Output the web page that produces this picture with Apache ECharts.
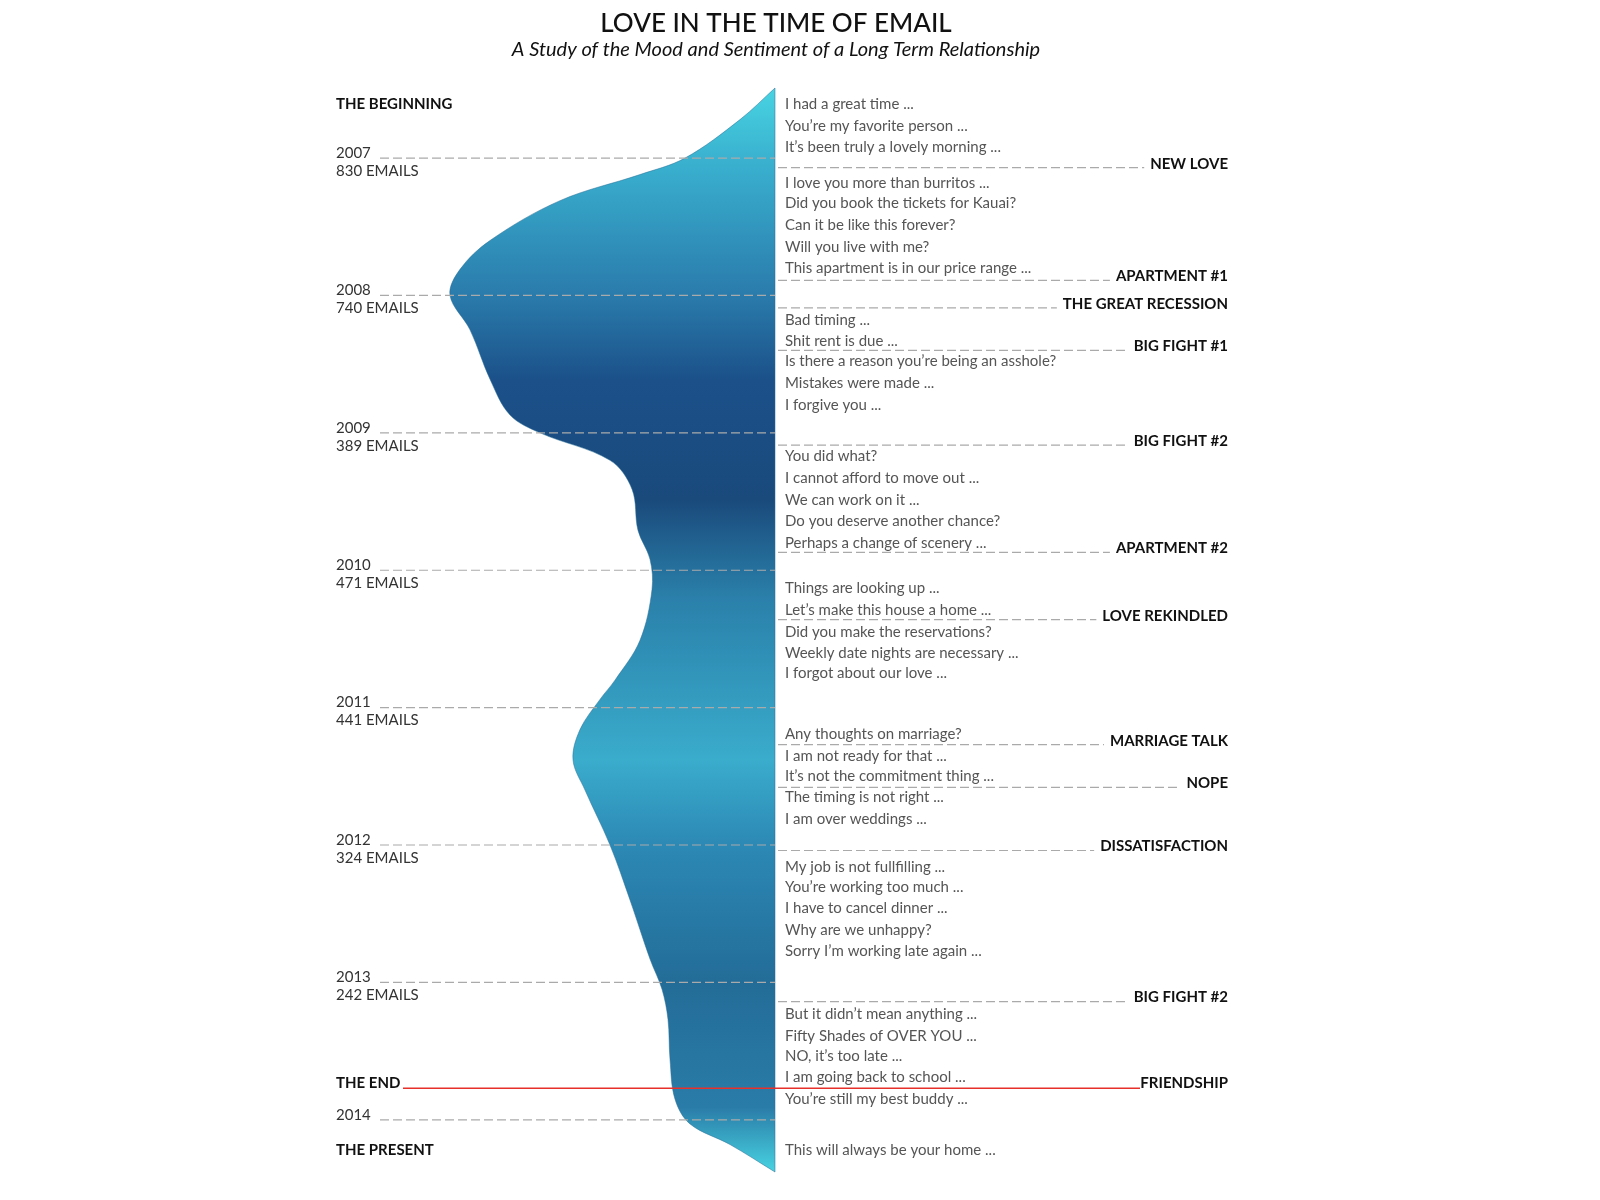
<!DOCTYPE html>
<html lang="en">
<head>
    <meta charset="UTF-8">
    <title>Love in the Time of Email</title>
    <style>
        body { margin: 0; background: #fff; }
    </style>
</head>
<body>
<div id="main" style="width: 1600px;height:1200px;"></div>
<script src="https://cdn.jsdelivr.net/npm/echarts@6/dist/echarts.min.js"></script>
<script>
    var myChart = echarts.init(document.getElementById('main'));

    // 情绪曲线：[年份, 宽度]
    var mood = [
        [2006.49, 0], [2006.72, 35], [2007.00, 90], [2007.12, 135], [2007.31, 215],
        [2007.60, 285], [2007.81, 315], [2008.00, 325], [2008.25, 305], [2008.61, 285],
        [2008.87, 265], [2009.00, 235], [2009.20, 165], [2009.41, 143], [2009.71, 137],
        [2009.92, 125], [2010.14, 123], [2010.51, 135], [2010.80, 160], [2010.94, 175],
        [2011.16, 195], [2011.38, 202], [2011.60, 190], [2012.00, 165], [2012.40, 145],
        [2012.83, 125], [2013.05, 113], [2013.27, 107], [2013.56, 105], [2013.85, 100],
        [2014.03, 85], [2014.18, 45], [2014.38, 0]
    ];

    var years = [
        {year: 2007, emails: 830}, {year: 2008, emails: 740}, {year: 2009, emails: 389},
        {year: 2010, emails: 471}, {year: 2011, emails: 441}, {year: 2012, emails: 324},
        {year: 2013, emails: 242}, {year: 2014, emails: null}
    ];

    var phrases = [
        [2006.61, "I had a great time ..."], [2006.77, "You’re my favorite person ..."],
        [2006.92, "It’s been truly a lovely morning ..."], [2007.18, "I love you more than burritos ..."],
        [2007.33, "Did you book the tickets for Kauai?"], [2007.49, "Can it be like this forever?"],
        [2007.65, "Will you live with me?"], [2007.80, "This apartment is in our price range ..."],
        [2008.18, "Bad timing ..."], [2008.33, "Shit rent is due ..."],
        [2008.48, "Is there a reason you’re being an asshole?"], [2008.64, "Mistakes were made ..."],
        [2008.80, "I forgive you ..."], [2009.17, "You did what?"],
        [2009.33, "I cannot afford to move out ..."], [2009.49, "We can work on it ..."],
        [2009.64, "Do you deserve another chance?"], [2009.80, "Perhaps a change of scenery ..."],
        [2010.13, "Things are looking up ..."], [2010.29, "Let’s make this house a home ..."],
        [2010.45, "Did you make the reservations?"], [2010.60, "Weekly date nights are necessary ..."],
        [2010.75, "I forgot about our love ..."], [2011.19, "Any thoughts on marriage?"],
        [2011.35, "I am not ready for that ..."], [2011.50, "It’s not the commitment thing ..."],
        [2011.65, "The timing is not right ..."], [2011.81, "I am over weddings ..."],
        [2012.16, "My job is not fullfilling ..."], [2012.31, "You’re working too much ..."],
        [2012.46, "I have to cancel dinner ..."], [2012.62, "Why are we unhappy?"],
        [2012.77, "Sorry I’m working late again ..."], [2013.23, "But it didn’t mean anything ..."],
        [2013.39, "Fifty Shades of OVER YOU ..."], [2013.54, "NO, it’s too late ..."],
        [2013.69, "I am going back to school ..."], [2013.85, "You’re still my best buddy ..."],
        [2014.22, "This will always be your home ..."]
    ];

    var events = [
        [2007.07, "NEW LOVE"], [2007.89, "APARTMENT #1"], [2008.09, "THE GREAT RECESSION"],
        [2008.40, "BIG FIGHT #1"], [2009.09, "BIG FIGHT #2"], [2009.87, "APARTMENT #2"],
        [2010.36, "LOVE REKINDLED"], [2011.27, "MARRIAGE TALK"], [2011.58, "NOPE"],
        [2012.04, "DISSATISFACTION"], [2013.14, "BIG FIGHT #2"]
    ];

    var leftMarks = [[2006.61, "THE BEGINNING"], [2014.22, "THE PRESENT"], [2013.73, "THE END"]];
    var theEnd = 2013.77;

    var FONT = 'Lato';
    var LEFT_X = 439, PHRASE_X = -10, RIGHT_X = -453;

    function renderShape(params, api) {
        var pts = [api.coord([0, mood[0][0]])];
        mood.forEach(function (d) { pts.push(api.coord([d[1], d[0]])); });
        pts.push(api.coord([0, mood[mood.length - 1][0]]));
        return {
            type: 'polygon',
            shape: {points: pts, smooth: 0.35},
            style: {
                fill: new echarts.graphic.LinearGradient(0, 0, 0, 1, [
                    {offset: 0, color: '#48d4e2'},
                    {offset: 0.065, color: '#3ab2d0'},
                    {offset: 0.19, color: '#2a7cac'},
                    {offset: 0.27, color: '#1b5089'},
                    {offset: 0.38, color: '#1a4a7c'},
                    {offset: 0.47, color: '#2a80aa'},
                    {offset: 0.62, color: '#3aaccc'},
                    {offset: 0.70, color: '#2c88b4'},
                    {offset: 0.825, color: '#236c98'},
                    {offset: 0.94, color: '#2a7ca8'},
                    {offset: 1, color: '#48d4e2'}
                ]),
                stroke: 'rgba(40,110,150,0.5)',
                lineWidth: 1
            }
        };
    }

    function dashed(a, b, color) {
        return {
            type: 'line',
            shape: {x1: a[0], y1: a[1], x2: b[0], y2: b[1]},
            style: {stroke: color || '#aaa', lineWidth: 1.2, lineDash: [9, 4]}
        };
    }

    function txt(p, s, opt) {
        opt = opt || {};
        return {
            type: 'text',
            x: p[0], y: p[1],
            style: {
                text: s, fill: opt.color || '#111', font: (opt.weight || 'normal') + ' 15px ' + FONT,
                align: opt.align || 'left', verticalAlign: 'middle',
                backgroundColor: opt.bg, padding: opt.pad
            }
        };
    }

    function renderText(params, api) {
        var children = [];
        // 左侧年份线
        years.forEach(function (y) {
            children.push(dashed(api.coord([395, y.year]), api.coord([0, y.year])));
            var p = api.coord([LEFT_X, y.year]);
            children.push(txt([p[0], p[1] - 5], String(y.year), {color: '#333'}));
            if (y.emails) children.push(txt([p[0], p[1] + 13], y.emails + ' EMAILS', {color: '#333'}));
        });
        leftMarks.forEach(function (m) {
            children.push(txt(api.coord([LEFT_X, m[0]]), m[1], {weight: 'bold'}));
        });
        // 右侧事件
        events.forEach(function (e) {
            children.push(dashed(api.coord([-3, e[0]]), api.coord([RIGHT_X, e[0]])));
            var p = api.coord([RIGHT_X, e[0]]);
            children.push(txt([p[0], p[1] - 4], e[1], {weight: 'bold', align: 'right', bg: '#fff', pad: [2, 0, 2, 6]}));
        });
        phrases.forEach(function (ph) {
            children.push(txt(api.coord([PHRASE_X, ph[0]]), ph[1], {color: '#555'}));
        });
        // THE END
        var a = api.coord([372, theEnd]), b = api.coord([-365, theEnd]);
        children.push({type: 'line', shape: {x1: a[0], y1: a[1], x2: b[0], y2: b[1]},
            style: {stroke: '#e8302a', lineWidth: 1.5}});
        children.push(txt([api.coord([RIGHT_X, theEnd])[0], a[1] - 5], 'FRIENDSHIP', {weight: 'bold', align: 'right'}));
        return {type: 'group', children: children};
    }

    var option = {
        backgroundColor: '#fff',
        animation: false,
        graphic: [
            {type: 'text', x: 776, y: 24, style: {text: 'LOVE IN THE TIME OF EMAIL', font: '500 26px ' + FONT,
                fill: '#111', align: 'center', verticalAlign: 'middle'}},
            {type: 'text', x: 776, y: 50, style: {text: 'A Study of the Mood and Sentiment of a Long Term Relationship',
                font: 'italic 20px ' + FONT, fill: '#111', align: 'center', verticalAlign: 'middle'}}
        ],
        grid: {left: 336, right: 372, top: 88, bottom: 28},
        xAxis: {type: 'value', min: RIGHT_X, max: LEFT_X, inverse: true, show: false},
        yAxis: {type: 'value', min: 2006.49, max: 2014.38, inverse: true, show: false},
        series: [
            {type: 'custom', renderItem: renderShape, data: [0], clip: false, silent: true},
            {type: 'custom', renderItem: renderText, data: [0], clip: false, silent: true}
        ]
    };

    myChart.setOption(option);
</script>
</body>
</html>
